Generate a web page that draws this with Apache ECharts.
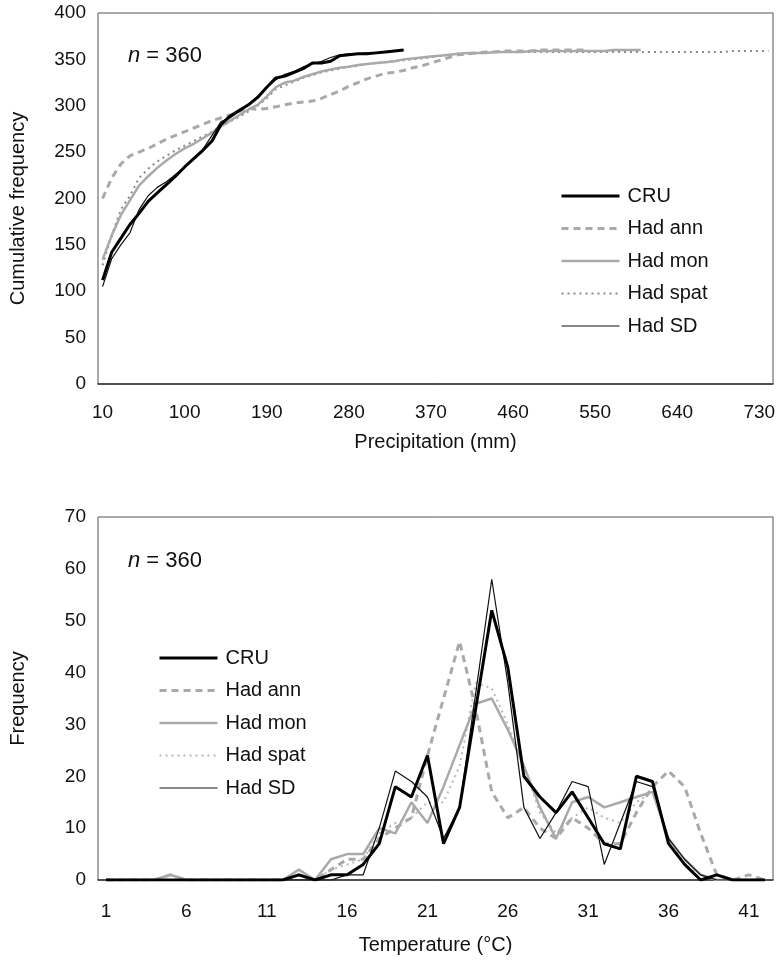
<!DOCTYPE html>
<html>
<head>
<meta charset="utf-8">
<title>Precipitation / temperature frequency</title>
<script src="https://cdn.jsdelivr.net/npm/echarts@6/dist/echarts.min.js"></script>
<style>
  html, body { margin: 0; padding: 0; background: #fff; }
  #main { width: 784px; height: 963px; }
</style>
</head>
<body>
<div id="main"></div>
<script>
// top panel: cumulative frequency by 10 mm precipitation bins (10..740)
var precipBins = [];
for (var p = 10; p <= 740; p += 10) precipBins.push(String(p));

var cruPrecip = [112,142,157,172,184,197,206,215,224,234,243,252,262,280,289,295,301,309,320,330,
                 332,336,340,346,346,348,354,355,356,356,357,358,359,360];
var hadAnnPrecip = [200,222,237,246,250,254,259,264,268,272,276,280,284,287,290,294,297,296,297,299,
                    301,303,304,305,308,312,316,321,325,329,332,335,336,338,341,343,346,349,352,355,
                    356,357,358,358,359,359,359,359,360,360,360,360,360,360];
var hadMonPrecip = [134,160,182,198,214,224,233,241,248,254,259,265,271,278,284,290,296,301,310,320,
                    325,327,331,334,337,339,341,342,344,345,346,347,348,350,351,352,353,354,355,356,
                    357,357,357,358,358,358,358,359,359,359,359,359,359,359,359,359,360,360,360,360];
var hadSpatPrecip = [128,160,188,203,222,232,240,246,252,257,262,267,272,278,283,288,294,300,308,318,
                     322,326,330,333,336,338,340,342,343,345,346,347,348,349,350,351,352,354,355,356,
                     356,357,357,358,358,358,358,358,358,358,358,358,358,358,358,358,358,358,358,358,
                     358,358,358,358,358,358,358,358,358,359,359,359,359,359];
var hadSdPrecip = [105,135,150,163,188,203,212,218,226,234,244,253,268,283,287,294,302,310,320,328,
                   334,337,342,345,348,352,355,356,356,357,357,358,359,360];

// bottom panel: frequency by 1 degree temperature bins (1..42)
var tempBins = [];
for (var t = 1; t <= 42; t++) tempBins.push(String(t));

var cruTemp = [0,0,0,0,0,0,0,0,0,0,0,0,1,0,1,1,3,7,18,16,24,7,14,33,52,41,20,16,13,17,12,7,6,20,19,7,3,0,1,0,0,0];
var hadAnnTemp = [0,0,0,0,1,0,0,0,0,0,0,0,1,0,2,4,4,8,10,12,24,35,46,33,17,12,14,10,8,12,10,7,7,13,18,21,18,9,1,0,1,0];
var hadMonTemp = [0,0,0,0,1,0,0,0,0,0,0,0,2,0,4,5,5,10,9,15,11,18,26,34,35,29,22,14,8,15,16,14,15,16,17,8,4,1,0,0,0,0];
var hadSpatTemp = [0,0,0,0,0,0,0,0,0,0,0,0,1,0,2,3,4,9,11,12,15,15,22,38,37,30,22,13,9,12,14,12,11,15,17,8,3,1,0,0,0,0];
var hadSdTemp = [0,0,0,0,0,0,0,0,0,0,0,0,0,0,0,1,1,10,21,19,16,8,14,36,58,38,14,8,13,19,18,3,11,19,18,8,4,1,0,0,0,0];

var FONT = 'Liberation Sans';
var GRAY = '#a9a9a9';

function lineSeries(name, data, axis, color, width, type) {
    return {
        name: name,
        type: 'line',
        xAxisIndex: axis,
        yAxisIndex: axis,
        data: data,
        symbol: 'none',
        silent: true,
        lineStyle: { color: color, width: width, type: type || 'solid', cap: 'butt' },
        itemStyle: { color: color }
    };
}

var T = ' (T)';   // bottom series names carry a suffix so each legend picks its own styles

function merge(a, b) {
    var o = {};
    for (var k in a) o[k] = a[k];
    for (var k2 in b) o[k2] = b[k2];
    return o;
}

var nameFont = { color: '#111', fontSize: 20, fontFamily: FONT };
var axisCommon = {
    axisLine: { lineStyle: { color: '#333', width: 1.5 } },
    axisTick: { inside: true, length: 5, interval: 0, lineStyle: { color: '#333' } },
    splitLine: { show: false },
    nameLocation: 'middle',
    nameTextStyle: nameFont
};
var tickFont = { color: '#111', fontSize: 19, fontFamily: FONT };

var legendCommon = {
    orient: 'vertical',
    itemWidth: 58, itemHeight: 14, itemGap: 12.5,
    itemStyle: { opacity: 0 },        // hide the marker dot, keep the line sample
    lineStyle: { width: 'inherit' },
    textStyle: { color: '#111', fontSize: 20, fontFamily: FONT, padding: [0, 0, 0, 3] },
    selectedMode: false
};

function nLabel(top) {
    return { type: 'text', left: 128, top: top,
             style: { text: '{i|n} = 360', fill: '#111', fontSize: 22, fontFamily: FONT,
                      rich: { i: { fontStyle: 'italic', fontSize: 22, fontFamily: FONT, fill: '#111' } } } };
}

var myChart = echarts.init(document.getElementById('main'), null, { renderer: 'canvas' });

var option = {
    animation: false,
    backgroundColor: '#fff',
    grid: [
        { left: 98, right: 11, top: 13, height: 371, show: true, borderColor: '#555', borderWidth: 1 },
        { left: 98, right: 11, top: 517, height: 363, show: true, borderColor: '#555', borderWidth: 1 }
    ],
    xAxis: [
        merge(axisCommon, {
            type: 'category', gridIndex: 0, data: precipBins, boundaryGap: true,
            axisLabel: merge(tickFont, { interval: 8, margin: 19 }),
            name: 'Precipitation (mm)', nameGap: 48
        }),
        merge(axisCommon, {
            type: 'category', gridIndex: 1, data: tempBins, boundaryGap: true,
            axisLabel: merge(tickFont, { interval: 4, margin: 22 }),
            name: 'Temperature (\u00b0C)', nameGap: 55
        })
    ],
    yAxis: [
        merge(axisCommon, {
            type: 'value', gridIndex: 0, min: 0, max: 400, interval: 50,
            axisLabel: merge(tickFont, { margin: 12 }),
            name: 'Cumulative frequency', nameGap: 70,
            nameTextStyle: merge(nameFont, { padding: [0, 20, 0, 0] })
        }),
        merge(axisCommon, {
            type: 'value', gridIndex: 1, min: 0, max: 70, interval: 10,
            axisLabel: merge(tickFont, { margin: 12 }),
            name: 'Frequency', nameGap: 70
        })
    ],
    legend: [
        merge(legendCommon, {
            left: 555, top: 181,
            data: ['CRU', 'Had ann', 'Had mon', 'Had spat', 'Had SD']
        }),
        merge(legendCommon, {
            left: 153, top: 643,
            formatter: function (n) { return n.replace(T, ''); },
            data: ['CRU' + T, 'Had ann' + T, 'Had mon' + T, 'Had spat' + T, 'Had SD' + T]
        })
    ],
    graphic: [nLabel(45), nLabel(550)],
    series: [
        lineSeries('Had spat', hadSpatPrecip, 0, '#8a8a8a', 2, [2, 4]),
        lineSeries('Had ann', hadAnnPrecip, 0, GRAY, 3, [7, 5]),
        lineSeries('Had mon', hadMonPrecip, 0, GRAY, 2.5),
        lineSeries('Had SD', hadSdPrecip, 0, '#111', 1.2),
        lineSeries('CRU', cruPrecip, 0, '#000', 3),

        lineSeries('Had spat' + T, hadSpatTemp, 1, '#b8b8b8', 2, [2, 4]),
        lineSeries('Had ann' + T, hadAnnTemp, 1, GRAY, 3, [7, 5]),
        lineSeries('Had mon' + T, hadMonTemp, 1, GRAY, 2.5),
        lineSeries('Had SD' + T, hadSdTemp, 1, '#111', 1.2),
        lineSeries('CRU' + T, cruTemp, 1, '#000', 3)
    ]
};

myChart.setOption(option);
</script>
</body>
</html>
